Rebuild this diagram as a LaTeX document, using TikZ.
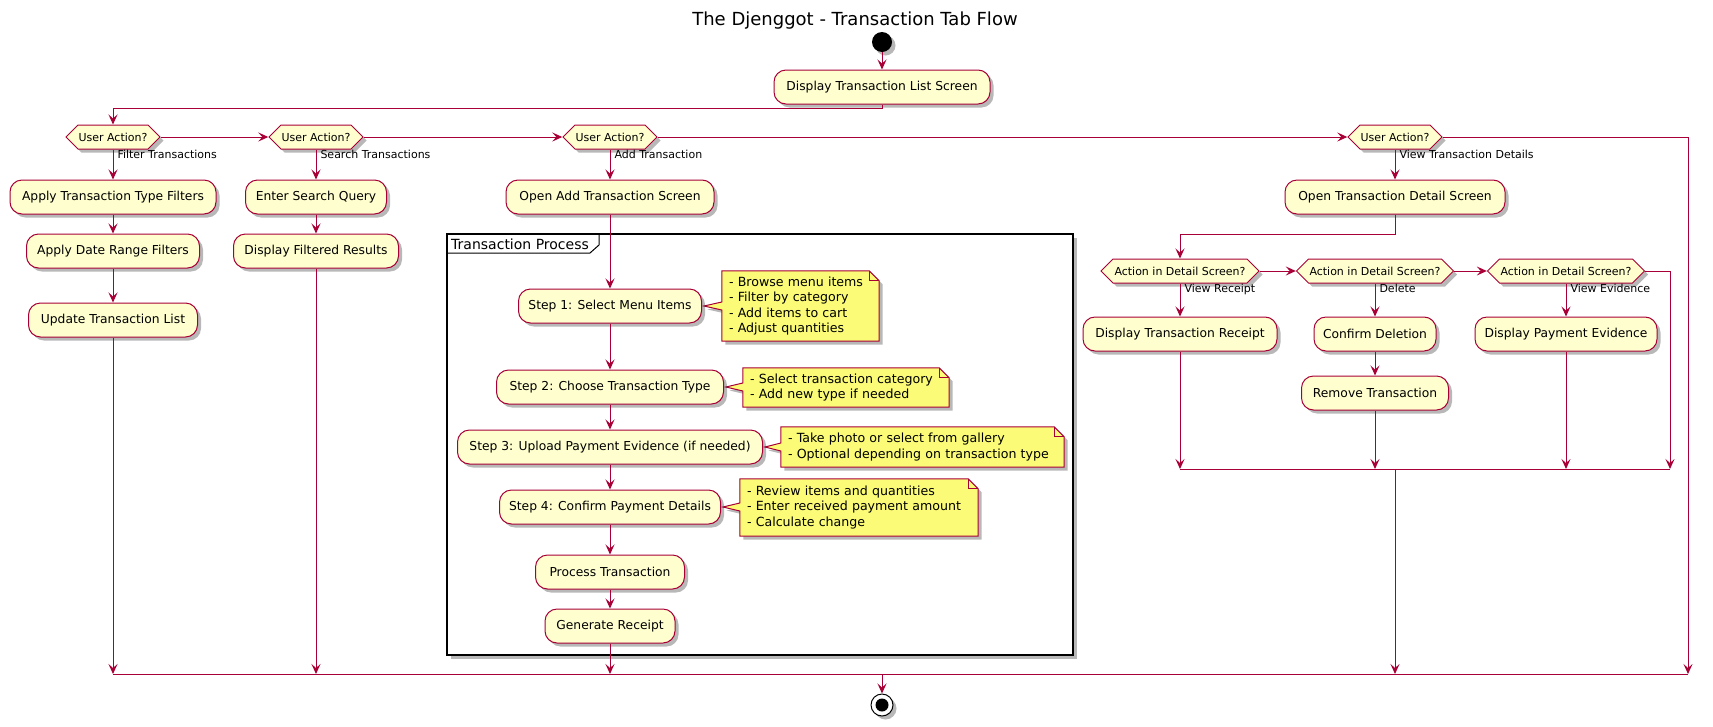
\documentclass[tikz,border=0pt]{standalone}
\usepackage{fontspec}
\setmainfont{DejaVu Sans}
\usetikzlibrary{arrows.meta,shapes.symbols,shadows,calc}
\definecolor{pred}{HTML}{A80036}
\definecolor{pfill}{HTML}{FEFECE}
\definecolor{nfill}{HTML}{FBFB77}
\pgfdeclarelayer{bg}
\pgfsetlayers{bg,main}
\newcommand\drawnote[2]{%
 \begin{pgfonlayer}{bg}
 \filldraw[noteshape] (#1.north west) -- ([xshift=-10pt]#1.north east) -- ([yshift=-10pt]#1.north east) -- (#1.south east) -- (#1.south west) -- ($(#1.west |- #2)+(0,4)$) -- (#2) -- ($(#1.west |- #2)+(0,-4)$) -- cycle;
 \draw[line] ([xshift=-10pt]#1.north east) |- ([yshift=-10pt]#1.north east);
 \end{pgfonlayer}}
\newcommand\nl[1]{\mbox{#1}}
\begin{document}
\begin{tikzpicture}[x=1pt,y=-1pt,
  shad/.style={drop shadow={shadow xshift=3.5pt,shadow yshift=-3.5pt,fill=black,opacity=0.28}},
  act/.style={rectangle,rounded corners=12pt,draw=pred,fill=pfill,line width=1pt,minimum height=34pt,inner sep=0pt,font=\fontsize{12.3}{14}\selectfont,shad},
  dec/.style={shape=signal,signal to=west and east,signal pointer angle=90,draw=pred,fill=pfill,line width=1pt,minimum height=24pt,inner sep=0pt,font=\fontsize{11}{13}\selectfont,shad},
  lbl/.style={font=\fontsize{11}{13}\selectfont,inner sep=0pt,anchor=north west,xshift=4pt},
  line/.style={draw=pred,line width=1pt},
  flow/.style={line,-{Stealth[length=10pt,width=9pt,inset=4pt]}},
  note/.style={align=left,inner xsep=7pt,inner ysep=0pt,font=\fontsize{12.6}{15.3}\selectfont},
  noteshape/.style={draw=pred,fill=nfill,line width=1pt,shad},
]
\useasboundingbox (0,0) rectangle (1713,726);

% frame
\begin{pgfonlayer}{bg}
\draw[line width=1.5pt,fill=white,shad] (447,234) rectangle (1073,655);
\draw[line width=1pt] (447,253) -- (590,253) -- (599,245) -- (599,234);
\end{pgfonlayer}
\node[font=\fontsize{14}{16}\selectfont,anchor=west,inner sep=0pt] (frameLbl) at (451,244) {Transaction Process};

\node[font=\fontsize{18}{21}\selectfont] (title) at (855,21) {The Djenggot - Transaction Tab Flow};
\node[circle,fill=black,minimum size=20pt,inner sep=0pt,shad] (start) at (882,42) {};
\node[act,minimum width=216pt] (list) at (882,87) {Display Transaction List Screen};

\node[dec,minimum width=94pt] (D1) at (113,137) {User Action?};
\node[dec,minimum width=94pt] (D2) at (316,137) {User Action?};
\node[dec,minimum width=94pt] (D3) at (610,137) {User Action?};
\node[dec,minimum width=94pt] (D4) at (1395,137) {User Action?};

\node[act,minimum width=206pt] (applyType) at (113,197) {Apply Transaction Type Filters};
\node[act,minimum width=173pt] (applyDate) at (113,251) {Apply Date Range Filters};
\node[act,minimum width=169pt] (update) at (113,320) {Update Transaction List};

\node[act,minimum width=141pt] (search) at (316,197) {Enter Search Query};
\node[act,minimum width=165pt] (filtered) at (316,251) {Display Filtered Results};

\node[act,minimum width=208pt] (openAdd) at (610,197) {Open Add Transaction Screen};
\node[act,minimum width=183pt] (step1) at (610,306) {Step 1: Select Menu Items};
\node[act,minimum width=227pt] (step2) at (610,387) {Step 2: Choose Transaction Type};
\node[act,minimum width=305pt] (step3) at (610,447) {Step 3: Upload Payment Evidence (if needed)};
\node[act,minimum width=221pt] (step4) at (610,507) {Step 4: Confirm Payment Details};
\node[act,minimum width=149pt] (process) at (610,572) {Process Transaction};
\node[act,minimum width=130pt] (generate) at (610,626) {Generate Receipt};

\node[note,text width=143pt,minimum height=70pt] (n1) at (800.5,306) {\nl{- Browse menu items}\\\nl{- Filter by category}\\\nl{- Add items to cart}\\\nl{- Adjust quantities}};
\node[note,text width=192pt,minimum height=39pt] (n2) at (846,387.5) {\nl{- Select transaction category}\\\nl{- Add new type if needed}};
\node[note,text width=269pt,minimum height=40pt] (n3) at (922.5,447) {\nl{- Take photo or select from gallery}\\\nl{- Optional depending on transaction type}};
\node[note,text width=224pt,minimum height=57pt] (n4) at (859,507.5) {\nl{- Review items and quantities}\\\nl{- Enter received payment amount}\\\nl{- Calculate change}};
\coordinate (t1) at ([xshift=2pt]step1.east);
\coordinate (t2) at ([xshift=2pt]step2.east);
\coordinate (t3) at ([xshift=2pt]step3.east);
\coordinate (t4) at ([xshift=2pt]step4.east);
\drawnote{n1}{t1}
\drawnote{n2}{t2}
\drawnote{n3}{t3}
\drawnote{n4}{t4}

\node[act,minimum width=220pt] (openDetail) at (1395,197) {Open Transaction Detail Screen};
\node[dec,minimum width=158pt] (D5) at (1180,271) {Action in Detail Screen?};
\node[dec,minimum width=157pt] (D6) at (1375,271) {Action in Detail Screen?};
\node[dec,minimum width=157pt] (D7) at (1566,271) {Action in Detail Screen?};
\node[act,minimum width=194pt] (receipt) at (1180,334) {Display Transaction Receipt};
\node[act,minimum width=122pt] (confirm) at (1375,334) {Confirm Deletion};
\node[act,minimum width=147pt] (remove) at (1375,393) {Remove Transaction};
\node[act,minimum width=182pt] (evidence) at (1566,334) {Display Payment Evidence};

\node[circle,draw=black,line width=1pt,fill=white,minimum size=22pt,inner sep=0pt,shad,
  path picture={\fill[black] (path picture bounding box.center) circle (6.5pt);}] (stop) at (882,705) {};

\coordinate (mL) at (113,674);
\coordinate (mR) at (1688,674);
\coordinate (iL) at (1180,469);
\coordinate (iR) at (1670,469);

% connectors
\draw[flow] (start) -- (list);
\draw[flow] (list.south) -- ++(0,4) -| (D1.north);
\draw[flow] (D1.east) -- (D2.west);
\draw[flow] (D2.east) -- (D3.west);
\draw[flow] (D3.east) -- (D4.west);
\draw[flow] (D4.east) -| (mR);

\draw[flow] (D1.south) -- (applyType.north) node[lbl,pos=0] (lFilter) {Filter Transactions};
\draw[flow] (applyType) -- (applyDate);
\draw[flow] (applyDate) -- (update);
\draw[flow] (update.south) -- (update.south |- mL);

\draw[flow] (D2.south) -- (search.north) node[lbl,pos=0] (lSearch) {Search Transactions};
\draw[flow] (search) -- (filtered);
\draw[flow] (filtered.south) -- (filtered.south |- mL);

\draw[flow] (D3.south) -- (openAdd.north) node[lbl,pos=0] (lAdd) {Add Transaction};
\draw[flow] (openAdd) -- (step1);
\draw[flow] (step1) -- (step2);
\draw[flow] (step2) -- (step3);
\draw[flow] (step3) -- (step4);
\draw[flow] (step4) -- (process);
\draw[flow] (process) -- (generate);
\draw[flow] (generate.south) -- (generate.south |- mL);

\draw[flow] (D4.south) -- (openDetail.north) node[lbl,pos=0] (lView) {View Transaction Details};
\draw[flow] (openDetail.south) -- ++(0,20) -| (D5.north);
\draw[flow] (D5.east) -- (D6.west);
\draw[flow] (D6.east) -- (D7.west);
\draw[flow] (D7.east) -| (iR);
\draw[flow] (D5.south) -- (receipt.north) node[lbl,pos=0] (lReceipt) {View Receipt};
\draw[flow] (D6.south) -- (confirm.north) node[lbl,pos=0] (lDelete) {Delete};
\draw[flow] (D7.south) -- (evidence.north) node[lbl,pos=0] (lEvid) {View Evidence};
\draw[flow] (receipt.south) -- (receipt.south |- iL);
\draw[flow] (confirm) -- (remove);
\draw[flow] (remove.south) -- (remove.south |- iL);
\draw[flow] (evidence.south) -- (evidence.south |- iL);
\draw[line] (iL) -- (iR);
\draw[flow] (openDetail.south |- iL) -- (openDetail.south |- mL);

\draw[line] (mL) -- (mR);
\draw[flow] (stop.north |- mL) -- (stop);
\end{tikzpicture}
\end{document}
